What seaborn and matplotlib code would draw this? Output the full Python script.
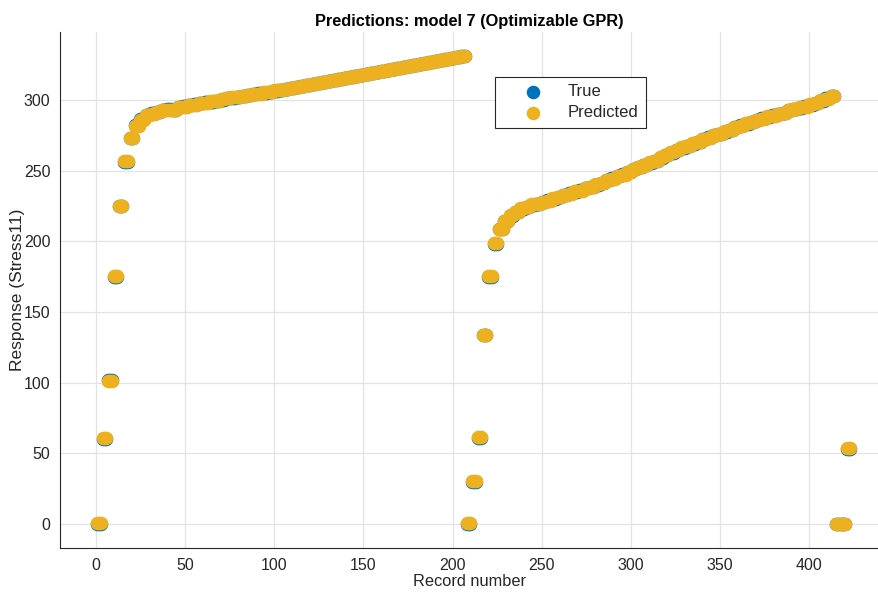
import numpy as np
import pandas as pd
import matplotlib
matplotlib.use("Agg")
import matplotlib.pyplot as plt
import seaborn as sns

# ---- data: each test condition is recorded 3 times (3 consecutive records) ----
seg1_true = [0, 60, 102, 175, 225, 256, 273, 282, 286.5, 289, 290.5, 291.5, 292.5, 293.3,
             293, 294.8, 295.5, 296.2, 296.8, 297.5, 298.2, 298.8, 299.5, 300.2, 301.5,
             301.5, 302.2, 302.8, 303.4, 304.0, 304.6, 305.2, 305.8, 306.5, 307.1, 307.8,
             308.4, 309.1, 309.8, 310.5, 311.2, 312.0, 312.7, 313.4, 314.1, 314.8, 315.5,
             316.2, 317.0, 317.7, 318.4, 319.1, 319.8, 320.5, 321.2, 321.9, 322.6, 323.3,
             324.0, 324.7, 325.4, 326.1, 326.8, 327.5, 328.2, 328.9, 329.6, 330.3, 331.0]
seg2_true = [0, 30, 61, 134, 175, 198, 209, 214, 218, 221, 223, 224.5, 225.5, 226.5, 227.5,
             229, 230, 231.5, 232.5, 234, 235, 236, 237.5, 238.5, 240, 241.5, 243, 244.5,
             246, 247.5, 249, 251, 252.5, 254, 255.5, 257, 259, 261, 262.5, 264.5, 266,
             267.5, 269, 270.5, 272, 273.5, 275, 276, 277.5, 279, 280.5, 282, 283, 284.5,
             285.5, 287, 288, 289, 290, 291, 292.5, 293.5, 294.5, 295.5, 296.5, 298, 299.5,
             301, 302.5]
seg3_true = [0, 0, 53]

seg1_pred = [0.5, 61, 101, 175.5, 225, 256.5, 273, 281.5, 286, 289.5, 290, 291.5, 292.8, 293,
             292.5, 295, 295.2, 296.5, 296.6, 297.8, 298, 299, 299.3, 300.5, 301.2,
             301.8, 302, 303, 303.2, 304.2, 304.4, 305.4, 305.6, 306.7, 306.9, 308,
             308.2, 309.3, 309.6, 310.7, 311, 312.2, 312.5, 313.6, 313.9, 315, 315.3,
             316.4, 316.8, 317.9, 318.2, 319.3, 319.6, 320.7, 321, 322.1, 322.4, 323.5,
             323.8, 324.9, 325.2, 326.3, 326.6, 327.7, 328, 329.1, 329.4, 330.5, 330.8]
seg2_pred = [0.5, 30.5, 61.5, 134, 175.5, 198.5, 208.5, 214.5, 218.5, 220.5, 223.5, 224, 226,
             226.2, 228, 228.6, 230.4, 231.2, 233, 233.6, 235.3, 235.8, 237.8, 238.3, 240.3,
             241.2, 243.3, 244.2, 246.3, 247.2, 249.3, 250.8, 252.7, 253.8, 255.8, 256.8,
             259.3, 260.7, 262.8, 264.2, 266.3, 267.2, 269.3, 270.2, 272.3, 273.2, 275.2,
             275.8, 277.8, 278.7, 280.8, 281.7, 283.3, 284.2, 285.8, 286.7, 288.3, 288.8,
             290.3, 290.8, 292.7, 293.3, 294.8, 295.3, 296.8, 297.7, 299.8, 300.8, 302.7]
seg3_pred = [0.3, 0.2, 53.5]

reps = 3
true_vals = np.repeat(seg1_true + seg2_true + seg3_true, reps)
pred_vals = np.repeat(seg1_pred + seg2_pred + seg3_pred, reps)
records = np.arange(1, len(true_vals) + 1)

df_true = pd.DataFrame({"Record number": records, "Response": true_vals})
df_pred = pd.DataFrame({"Record number": records, "Response": pred_vals})

x_ticks = [0, 50, 100, 150, 200, 250, 300, 350, 400]
y_ticks = [0, 50, 100, 150, 200, 250, 300]

# ---- style ----
sns.set_theme(style="white")
plt.rcParams["font.family"] = ["Liberation Sans", "DejaVu Sans"]

fig = plt.figure(figsize=(8.79, 5.93), dpi=100)
ax = fig.add_axes([60 / 879, 1 - 548 / 593, 819 / 879, 516 / 593])

blue = "#0072BD"
gold = "#EDB120"

sns.scatterplot(data=df_true, x="Record number", y="Response", ax=ax, color=blue,
                s=95, linewidth=0, label="True", zorder=3)
sns.scatterplot(data=df_pred, x="Record number", y="Response", ax=ax, color=gold,
                s=95, linewidth=0, label="Predicted", zorder=4)

ax.set_xlim(-20, 439)
ax.set_ylim(-17, 348)
ax.set_xticks(x_ticks)
ax.set_yticks(y_ticks)
ax.grid(True, color="#e3e3e3", linewidth=0.9)
ax.set_axisbelow(True)

for side in ["top", "right"]:
    ax.spines[side].set_visible(False)
for side in ["left", "bottom"]:
    ax.spines[side].set_color("#262626")
    ax.spines[side].set_linewidth(0.8)

ax.tick_params(axis="both", direction="in", length=5, width=0.8, color="#262626",
               labelsize=11.5, labelcolor="#262626", pad=7)
ax.set_xlabel("Record number", fontsize=11.8, color="#262626", labelpad=1)
ax.set_ylabel("Response (Stress11)", fontsize=12.5, color="#262626")
ax.yaxis.set_label_coords((25 - 60) / 819, 0.5)
ax.set_title("Predictions: model 7 (Optimizable GPR)", fontsize=11.8, fontweight="bold",
             color="black", pad=4)

leg = ax.legend(loc="upper left", bbox_to_anchor=((495 - 60) / 819, (548 - 77) / 516),
                frameon=True, fancybox=False, fontsize=12, handletextpad=0.3,
                borderpad=0.45, labelspacing=0.35, borderaxespad=0, markerscale=1.0,
                handlelength=3.6)
leg.get_frame().set_edgecolor("#262626")
leg.get_frame().set_linewidth(0.8)
leg.get_frame().set_alpha(1)

fig.savefig("out.png", dpi=100)
